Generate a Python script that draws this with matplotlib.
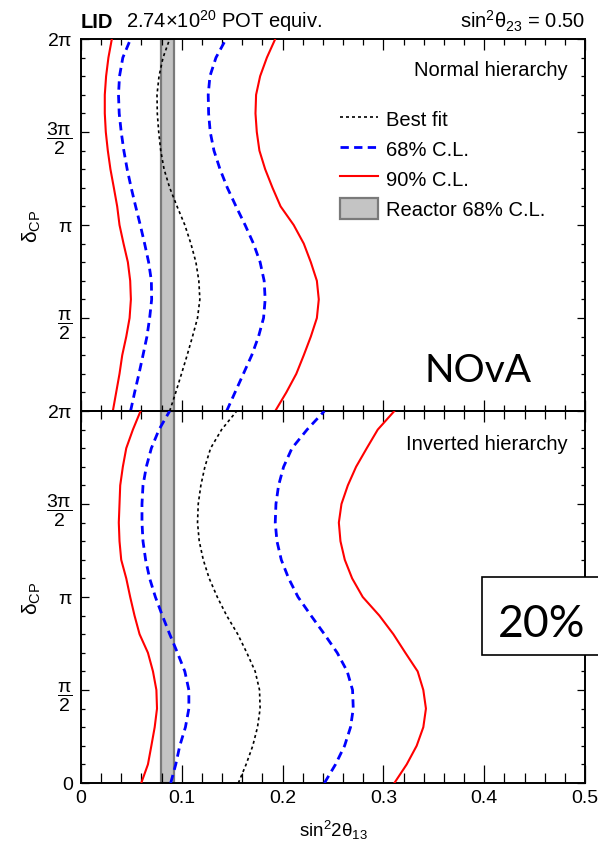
import numpy as np
import matplotlib.pyplot as plt
from matplotlib.ticker import MultipleLocator
from matplotlib.lines import Line2D
from matplotlib.patches import Patch, Rectangle

plt.rcParams['font.family'] = ['Liberation Sans', 'DejaVu Sans']
plt.rcParams['mathtext.fontset'] = 'custom'
plt.rcParams['mathtext.rm'] = 'Liberation Sans'
plt.rcParams['mathtext.it'] = 'Liberation Sans:italic'
plt.rcParams['mathtext.bf'] = 'Liberation Sans:bold'

# delta_CP grid, in units of pi
dcp = np.array([0.0, 0.1, 0.2, 0.3, 0.4, 0.5, 0.6, 0.7, 0.8, 0.9, 1.0,
                1.1, 1.2, 1.3, 1.4, 1.5, 1.6, 1.7, 1.8, 1.9, 2.0])

# normal hierarchy contours (sin^2 2theta13)
nh_90_lo = [0.0316, 0.0349, 0.0382, 0.0409, 0.0449, 0.0482, 0.0495, 0.0488, 0.0465, 0.0422, 0.0382,
            0.0359, 0.0326, 0.0292, 0.0266, 0.0246, 0.0236, 0.0236, 0.0249, 0.0272, 0.0306]
nh_68_lo = [0.0492, 0.0532, 0.0575, 0.0615, 0.0654, 0.0681, 0.0701, 0.0698, 0.0671, 0.0631, 0.0588,
            0.0542, 0.0498, 0.0458, 0.0425, 0.0399, 0.0379, 0.0372, 0.0382, 0.0415, 0.0492]
nh_best = [0.0880, 0.0940, 0.0997, 0.1053, 0.1106, 0.1156, 0.1179, 0.1169, 0.1140, 0.1090, 0.1030,
           0.0953, 0.0880, 0.0824, 0.0791, 0.0771, 0.0757, 0.0754, 0.0774, 0.0814, 0.0880]
nh_68_hi = [0.1445, 0.1528, 0.1611, 0.1694, 0.1761, 0.1811, 0.1827, 0.1817, 0.1777, 0.1711, 0.1628,
            0.1538, 0.1452, 0.1379, 0.1319, 0.1282, 0.1266, 0.1262, 0.1279, 0.1339, 0.1439]
nh_90_hi = [0.1927, 0.2037, 0.2136, 0.2210, 0.2280, 0.2340, 0.2359, 0.2340, 0.2280, 0.2210, 0.2110,
            0.1980, 0.1900, 0.1827, 0.1770, 0.1744, 0.1731, 0.1737, 0.1777, 0.1844, 0.1927]

# inverted hierarchy contours
ih_90_lo = [0.0598, 0.0664, 0.0698, 0.0731, 0.0754, 0.0748, 0.0714, 0.0664, 0.0581, 0.0531, 0.0488,
            0.0449, 0.0399, 0.0382, 0.0375, 0.0382, 0.0389, 0.0415, 0.0449, 0.0515, 0.0591]
ih_68_lo = [0.0890, 0.0940, 0.0980, 0.1036, 0.1070, 0.1070, 0.1030, 0.0957, 0.0880, 0.0807, 0.0738,
            0.0681, 0.0641, 0.0615, 0.0605, 0.0605, 0.0615, 0.0648, 0.0698, 0.0774, 0.0880]
ih_best = [0.1561, 0.1638, 0.1704, 0.1751, 0.1777, 0.1771, 0.1728, 0.1645, 0.1555, 0.1445, 0.1352,
           0.1272, 0.1213, 0.1173, 0.1156, 0.1163, 0.1189, 0.1229, 0.1286, 0.1395, 0.1545]
ih_68_hi = [0.2415, 0.2525, 0.2615, 0.2674, 0.2701, 0.2694, 0.2641, 0.2542, 0.2415, 0.2282, 0.2153,
            0.2060, 0.1987, 0.1944, 0.1927, 0.1934, 0.1960, 0.2010, 0.2093, 0.2243, 0.2415]
ih_90_hi = [0.3109, 0.3231, 0.3330, 0.3396, 0.3422, 0.3396, 0.3340, 0.3218, 0.3099, 0.2960, 0.2795,
            0.2690, 0.2617, 0.2574, 0.2558, 0.2584, 0.2647, 0.2729, 0.2835, 0.2944, 0.3109]

# reactor 68% C.L. band
reactor_lo = 0.0797
reactor_hi = 0.0920

ytick_pos = [0.0, 0.5, 1.0, 1.5, 2.0]
ytick_lab = ['0', r'$\dfrac{\mathrm{\pi}}{2}$', r'$\mathrm{\pi}$',
             r'$\dfrac{3\mathrm{\pi}}{2}$', r'$2\mathrm{\pi}$']
xtick_pos = [0.0, 0.1, 0.2, 0.3, 0.4, 0.5]
xtick_lab = ['0', '0.1', '0.2', '0.3', '0.4', '0.5']

W, H = 598, 845
fig = plt.figure(figsize=(W / 100, H / 100), dpi=100)
left, right = 81, 585
ax1 = fig.add_axes([left / W, 1 - 412 / H, (right - left) / W, 372 / H])
ax2 = fig.add_axes([left / W, 1 - 784 / H, (right - left) / W, 372 / H])

red = '#ff0000'
blue = '#0000ff'
for ax, curves in [(ax1, (nh_90_lo, nh_68_lo, nh_best, nh_68_hi, nh_90_hi)),
                   (ax2, (ih_90_lo, ih_68_lo, ih_best, ih_68_hi, ih_90_hi))]:
    c90lo, c68lo, cbest, c68hi, c90hi = curves
    y = dcp * np.pi
    ax.axvspan(reactor_lo, reactor_hi, facecolor='#c4c4c4', edgecolor='#7a7a7a', lw=1.6, zorder=1)
    ax.plot(cbest, y, color='black', lw=1.2, ls=(0, (1.8, 1.8)), zorder=3)
    ax.plot(c68lo, y, color=blue, lw=2.0, ls=(0, (3.0, 1.9)), zorder=3)
    ax.plot(c68hi, y, color=blue, lw=2.0, ls=(0, (3.0, 1.9)), zorder=3)
    ax.plot(c90lo, y, color=red, lw=1.5, zorder=3)
    ax.plot(c90hi, y, color=red, lw=1.5, zorder=3)

    ax.set_xlim(0, 0.5)
    ax.set_ylim(0, 2 * np.pi)
    ax.set_xticks(xtick_pos, xtick_lab)
    ax.xaxis.set_minor_locator(MultipleLocator(0.02))
    ax.set_yticks([p * np.pi for p in ytick_pos], ytick_lab)
    ax.yaxis.set_minor_locator(MultipleLocator(np.pi / 10))
    ax.tick_params(axis='y', which='major', direction='in', length=6, width=0.9,
                   right=True, labelsize=14, pad=6)
    ax.tick_params(axis='y', which='minor', direction='in', length=3.2, width=0.9, right=True)
    for s in ax.spines.values():
        s.set_linewidth(1.4)

# top panel: small ticks both edges, no x labels, no 0 on y
ax1.tick_params(axis='x', which='major', direction='in', length=8, width=0.9,
                top=True, labelbottom=False)
ax1.tick_params(axis='x', which='minor', direction='in', length=4.5, width=0.9, top=True)
ax1.yaxis.get_major_ticks()[0].label1.set_visible(False)

# bottom panel: longer ticks on the bottom edge
ax2.tick_params(axis='x', which='major', direction='in', length=13, width=0.9,
                top=False, labelsize=14, pad=4)
ax2.tick_params(axis='x', which='minor', direction='in', length=7, width=0.9, top=False)
sec = ax2.secondary_xaxis('top')
sec.set_xticks(xtick_pos)
sec.xaxis.set_minor_locator(MultipleLocator(0.02))
sec.tick_params(axis='x', which='major', direction='in', length=8, width=0.9, labeltop=False)
sec.tick_params(axis='x', which='minor', direction='in', length=5.5, width=0.9)
sec.spines['top'].set_linewidth(1.4)

ax2.set_xlabel(r'sin$^{2}$2θ$_{13}$', fontsize=13.5, labelpad=9)
for ax in (ax1, ax2):
    ax.set_ylabel(r'δ$_{\mathrm{CP}}$', fontsize=15)
    ax.yaxis.set_label_coords(-0.075, 0.5)

ax1.text(0.966, 0.903, 'Normal hierarchy', transform=ax1.transAxes,
         ha='right', va='baseline', fontsize=14.5)
ax2.text(0.966, 0.898, 'Inverted hierarchy', transform=ax2.transAxes,
         ha='right', va='baseline', fontsize=14.5)

handles = [Line2D([], [], color='black', lw=1.2, ls=(0, (1.8, 1.8))),
           Line2D([], [], color=blue, lw=2.0, ls=(0, (3.0, 1.9))),
           Line2D([], [], color=red, lw=1.5),
           Patch(facecolor='#c4c4c4', edgecolor='#7a7a7a', lw=1.6)]
labels = ['Best fit', '68% C.L.', '90% C.L.', 'Reactor 68% C.L.']
fig.legend(handles, labels, loc='upper left', bbox_to_anchor=(340 / W, 1 - 109 / H),
           frameon=False, fontsize=14.5, handlelength=1.9, handleheight=1.25,
           handletextpad=0.4, labelspacing=0.42, borderpad=0, borderaxespad=0)

# header
fig.text(81 / W, 1 - 28 / H, 'LID', fontsize=14.5, fontweight='bold', va='baseline')
fig.text(126 / W, 1 - 28 / H, r'2.74×10$^{20}$ POT equiv.', fontsize=14.5, va='baseline')
fig.text(585 / W, 1 - 28 / H, r'sin$^{2}$θ$_{23}$ = 0.50', fontsize=14.5,
         va='baseline', ha='right')

# overlay labels
fig.text(478 / W, 1 - 382 / H, 'NOvA', fontsize=28, family=['Lato', 'DejaVu Sans'],
         ha='center', va='baseline')
fig.patches.append(Rectangle((482 / W, 1 - 656 / H), 130 / W, 78 / H, transform=fig.transFigure,
                             facecolor='white', edgecolor='black', lw=1.2, zorder=5))
fig.text(542 / W, 1 - 637 / H, '20%', fontsize=32, family=['Lato', 'DejaVu Sans'],
         ha='center', va='baseline', zorder=6)

fig.savefig('out.png', dpi=100)
